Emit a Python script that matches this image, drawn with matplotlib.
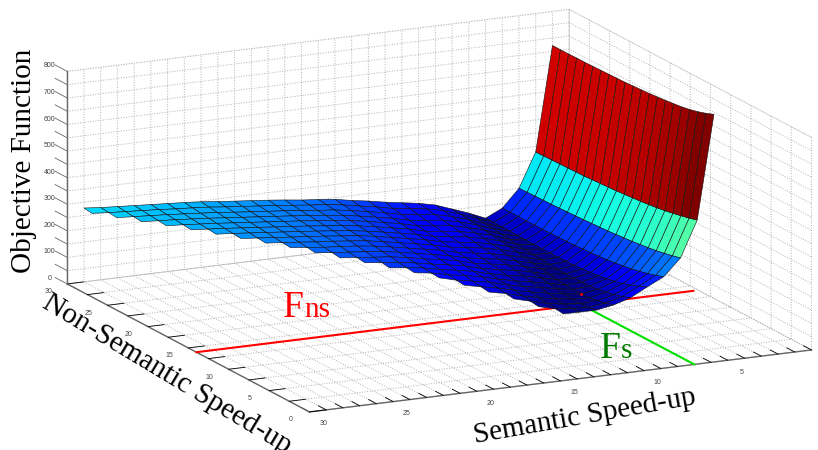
import numpy as np
import matplotlib
matplotlib.use("Agg")
import matplotlib.pyplot as plt
from mpl_toolkits.mplot3d import proj3d
from mpl_toolkits.mplot3d.art3d import Poly3DCollection

# speed-up values on the mesh
semantic = list(range(1, 30))
first_non_semantic = [10] * 10 + list(range(11, 30))

# objective values per semantic speed-up, from first_non_semantic up to 30
objective = [
    [734, 722, 712, 704, 698, 694, 690, 687, 684, 682, 680, 678, 677, 676, 675, 674, 673, 673, 672, 672, 672],
    [344, 335, 328, 321, 315, 310, 306, 302, 299, 296, 293, 291, 289, 287, 285, 284, 283, 282, 281, 280, 279],
    [209, 201, 194, 188, 183, 179, 175, 172, 169, 166, 164, 162, 160, 158, 157, 155, 154, 153, 152, 151, 150],
    [146, 135, 126, 118, 111, 106, 101, 97, 94, 91, 89, 87, 86, 85, 84, 83, 83, 83, 83, 83, 83],
    [115, 102, 90, 80, 72, 66, 61, 57, 54, 52, 51, 50, 50, 50, 50, 51, 51, 52, 52, 53, 53],
    [82, 71, 62, 55, 50, 47, 45, 44, 44, 45, 47, 49, 52, 55, 58, 61, 65, 69, 73, 77, 80],
    [63, 54, 47, 42, 40, 41, 43, 46, 50, 55, 60, 65, 70, 75, 80, 84, 88, 92, 96, 100, 103],
    [52, 46, 44, 45, 48, 52, 56, 61, 66, 71, 76, 81, 86, 91, 96, 100, 105, 110, 115, 121, 126],
    [52, 48, 50, 54, 59, 64, 69, 75, 80, 85, 90, 95, 100, 105, 110, 115, 120, 125, 130, 135, 140],
    [53, 56, 60, 65, 71, 76, 81, 86, 91, 96, 100, 105, 110, 114, 118, 122, 127, 132, 137, 144, 150],
    [72, 76, 80, 85, 90, 95, 99, 103, 107, 111, 115, 119, 123, 127, 131, 135, 140, 146, 152, 160],
    [93, 97, 102, 107, 112, 116, 120, 124, 127, 131, 135, 139, 143, 147, 151, 155, 160, 166, 172],
    [110, 114, 119, 124, 128, 132, 136, 139, 143, 147, 151, 155, 159, 163, 167, 172, 177, 182],
    [128, 131, 135, 139, 143, 147, 151, 155, 159, 163, 167, 171, 175, 179, 184, 189, 194],
    [147, 149, 152, 155, 159, 163, 167, 171, 175, 178, 182, 186, 190, 194, 198, 201],
    [158, 161, 165, 170, 174, 178, 182, 185, 188, 191, 194, 197, 200, 204, 207],
    [168, 172, 176, 181, 186, 189, 192, 195, 198, 201, 204, 207, 211, 215],
    [179, 183, 187, 192, 196, 199, 202, 205, 208, 211, 214, 218, 222],
    [189, 193, 197, 201, 205, 208, 211, 214, 217, 220, 224, 228],
    [200, 204, 208, 211, 214, 217, 220, 223, 226, 230, 234],
    [211, 214, 217, 220, 223, 226, 229, 232, 236, 240],
    [220, 223, 226, 229, 232, 235, 239, 243, 247],
    [229, 232, 235, 238, 241, 244, 248, 252],
    [237, 240, 243, 246, 249, 252, 256],
    [245, 248, 251, 254, 257, 260],
    [252, 255, 258, 261, 264],
    [259, 262, 265, 268],
    [266, 269, 272],
    [274, 278],
]

# the two optimum lines on the floor and the optimum itself
red_x = [30, 0.3]
red_y = [14, 14]
green_x = [7, 7]
green_y = [0, 14]
best_x = [7]
best_y = [14]
best_z = [41]

x_ticks = list(range(0, 31))
y_ticks = [i * 2.5 for i in range(13)]
z_ticks = list(range(0, 801, 50))
x_labelled = [5, 10, 15, 20, 25, 30]
y_labelled = [0, 5, 10, 15, 20, 25, 30]
z_labelled = [0, 100, 200, 300, 400, 500, 600, 700, 800]

# build one quad per mesh cell, coloured by its first corner
faces = []
face_values = []
for i in range(len(semantic) - 1):
    for y in range(first_non_semantic[i + 1], 30):
        j0 = y - first_non_semantic[i]
        j1 = y - first_non_semantic[i + 1]
        z00 = objective[i][j0]
        z01 = objective[i][j0 + 1]
        z10 = objective[i + 1][j1]
        z11 = objective[i + 1][j1 + 1]
        faces.append([
            (semantic[i], y, z00),
            (semantic[i], y + 1, z01),
            (semantic[i + 1], y + 1, z11),
            (semantic[i + 1], y, z10),
        ])
        face_values.append(z00)

norm = plt.Normalize(40, 720)
face_colors = plt.cm.jet(norm(np.array(face_values)))

fig = plt.figure(figsize=(8.18, 4.5), dpi=100)
ax = fig.add_axes([31.6 / 818, -168.4 / 450, 794 / 818, 794 / 450], projection="3d", computed_zorder=False)
ax.set_proj_type("ortho")
ax.view_init(elev=14.8, azim=244.2)
ax.set_box_aspect((558, 557, 220))
ax.set_xlim(30, 0, view_margin=0)
ax.set_ylim(0, 30, view_margin=0)
ax.set_zlim(0, 800, view_margin=0)

# panes and grid
for axis in [ax.xaxis, ax.yaxis, ax.zaxis]:
    axis.pane.set_facecolor((1, 1, 1, 0))
    axis.pane.set_edgecolor("#aaaaaa")
    axis.pane.set_linestyle(":")
    axis.pane.set_linewidth(0.7)
    axis.line.set_color("#666666")
    axis.line.set_linewidth(1.0)
    axis._axinfo["grid"].update(color="#b0b0b0", linewidth=0.7, linestyle=":")
    axis._axinfo["tick"].update(inward_factor=0, outward_factor=0.4, linewidth={True: 0.6, False: 0.5})
ax.zaxis._axinfo["tick"].update(outward_factor=0)

ax.set_xticks(x_ticks)
ax.set_xticklabels([])
ax.set_yticks(y_ticks)
ax.set_yticklabels([])
ax.set_zticks(z_ticks)
ax.set_zticklabels([])

# tick labels, placed just off the axis edges through the 3d projection
tick_font = dict(family="Liberation Sans", fontsize=5, color="#444444", ha="center", va="center")
proj = ax.get_proj()
def tick_label(x, y, z, s):
    px, py, _ = proj3d.proj_transform(x, y, z, proj)
    ax.text2D(px, py, s, transform=ax.transData, **tick_font)

for t in x_labelled:
    tick_label(t, -1.7, -18, str(t))
for t in y_labelled:
    tick_label(31.14, t, -21, str(t))
for t in z_labelled:
    tick_label(30, 32.2, t - 15, str(t))
for t in z_ticks:
    ax.plot([30, 30], [30, 31.5], [t, t], color="#666666", linewidth=0.6, zorder=1)

ax.plot(red_x, red_y, [0, 0], color="#ff0000", linewidth=1.5, zorder=2)
ax.plot(green_x, green_y, [0, 0], color="#00e000", linewidth=1.5, zorder=2)

surface = Poly3DCollection(faces, facecolors=face_colors, edgecolors="#101010", linewidths=0.4, zorder=3)
ax.add_collection3d(surface, autolim=False)
ax.plot(best_x, best_y, best_z, "o", color="#ff0000", markersize=1, zorder=4)

# labels sit in figure pixels
serif = "Liberation Serif"
def px_text(x, y, s, **kw):
    fig.text(x / 818, 1 - y / 450, s, family=serif, **kw)

center = dict(ha="center", va="center", fontsize=21, color="black")
px_text(24, 161, "Objective Function", rotation=90, **center)
px_text(167, 374, "Non-Semantic Speed-up", rotation=-31, rotation_mode="anchor", **center)
px_text(585, 417, "Semantic Speed-up", rotation=10, rotation_mode="anchor", **center)
px_text(283, 317, "F", fontsize=27, color="#ff0000", ha="left", va="baseline")
px_text(304, 317, "ns", fontsize=21, color="#ff0000", ha="left", va="baseline")
px_text(600, 358, "F", fontsize=27, color="#007a00", ha="left", va="baseline")
px_text(621, 358, "s", fontsize=21, color="#007a00", ha="left", va="baseline")

fig.savefig("out.png", dpi=100)
